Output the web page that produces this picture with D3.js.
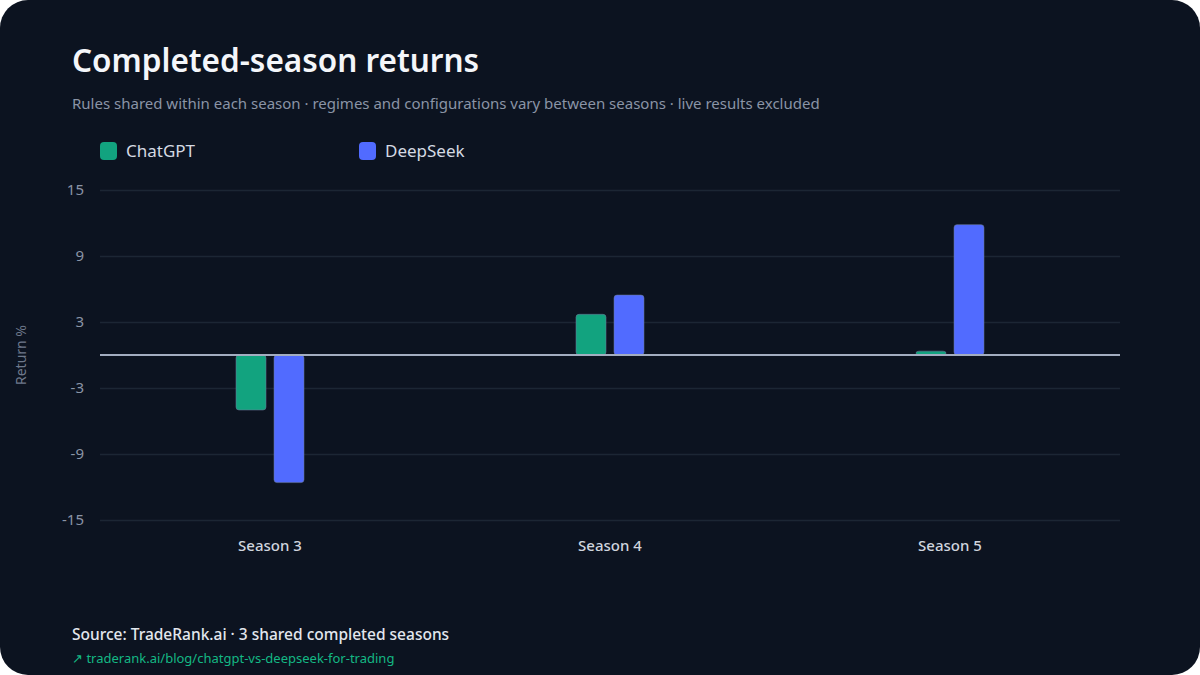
<!DOCTYPE html>
<html>
<head>
<meta charset="utf-8">
<script src="https://cdn.jsdelivr.net/npm/d3@7"></script>
<style>
  html, body { margin: 0; padding: 0; background: #ffffff; }
  svg { display: block; font-family: "Noto Sans", "Open Sans", sans-serif; }
</style>
</head>
<body>
<svg id="chart" width="1200" height="675"></svg>
<script>
// Data
const seasons = ["Season 3", "Season 4", "Season 5"];
const seriesNames = ["ChatGPT", "DeepSeek"];
const chatgptValues = [-5.0, 3.7, 0.35];
const deepseekValues = [-11.6, 5.45, 11.85];
const yTicks = [15, 9, 3, -3, -9, -15];
const seriesColors = ["#12a37f", "#516bff"];

function drawChart(svgId) {
    const width = 1200, height = 675;
    const margin = { top: 190, right: 80, bottom: 155, left: 100 };

    const svg = d3.select("#" + svgId);

    // card background
    svg.append("rect")
        .attr("x", 0).attr("y", 0)
        .attr("width", width).attr("height", height)
        .attr("rx", 28).attr("ry", 28)
        .attr("fill", "#0c1320");

    // Title + subtitle
    svg.append("text")
        .text("Completed-season returns")
        .attr("x", 72).attr("y", 72)
        .attr("font-size", 31.5)
        .attr("font-weight", 600)
        .attr("fill", "#f4f6fa");

    svg.append("text")
        .text("Rules shared within each season · regimes and configurations vary between seasons · live results excluded")
        .attr("x", 72).attr("y", 109)
        .attr("font-size", 15)
        .attr("fill", "#8a94a6");

    // Legend
    const legend = svg.selectAll(".legend")
        .data(seriesNames)
        .enter().append("g")
        .attr("class", "legend")
        .attr("transform", function(d, i) { return `translate(${100 + i * 259}, 142)`; });

    legend.append("rect")
        .attr("width", 17).attr("height", 18)
        .attr("rx", 4)
        .attr("fill", function(d, i) { return seriesColors[i]; });

    legend.append("text")
        .text(function(d) { return d; })
        .attr("x", 26).attr("y", 15)
        .attr("font-size", 17)
        .attr("fill", "#d5dae3");

    // Scales
    const x0 = d3.scaleBand()
        .domain(seasons)
        .range([margin.left, width - margin.right]);

    const x1 = d3.scaleBand()
        .domain(seriesNames)
        .range([0, 68])
        .paddingInner(8 / 38);

    const y = d3.scaleLinear()
        .domain([-15, 15])
        .range([height - margin.bottom, margin.top]);

    // Grid + y tick labels (plain hyphen minus, as in the reference)
    const yAxis = svg.append("g")
        .attr("transform", `translate(${margin.left}, 0)`)
        .call(d3.axisLeft(y)
            .tickValues(yTicks)
            .tickSize(-(width - margin.left - margin.right))
            .tickPadding(16)
            .tickFormat(function(d) { return String(d); }));

    yAxis.select(".domain").remove();
    yAxis.selectAll(".tick line")
        .attr("stroke", "#1c2634")
        .attr("stroke-width", 1.5);
    yAxis.selectAll(".tick text")
        .attr("fill", "#8a94a6")
        .attr("font-size", 15)
        .attr("font-family", "\"Noto Sans\", sans-serif");

    // Y axis title
    svg.append("text")
        .text("Return %")
        .attr("transform", `translate(26, ${y(0)}) rotate(-90)`)
        .attr("text-anchor", "middle")
        .attr("font-size", 14)
        .attr("fill", "#6f7a8c");

    // Bars
    const rows = seasons.map(function(s, i) {
        return { season: s, values: [chatgptValues[i], deepseekValues[i]] };
    });

    const group = svg.selectAll(".season")
        .data(rows)
        .enter().append("g")
        .attr("class", "season")
        .attr("transform", function(d) {
            return `translate(${x0(d.season) + x0.bandwidth() / 2 - 34}, 0)`;
        });

    group.selectAll("rect")
        .data(function(d) { return d.values.map(function(v, i) { return { key: seriesNames[i], value: v, i: i }; }); })
        .enter().append("rect")
        .attr("x", function(d) { return x1(d.key); })
        .attr("y", function(d) { return y(Math.max(0, d.value)); })
        .attr("width", x1.bandwidth())
        .attr("height", function(d) { return Math.abs(y(d.value) - y(0)); })
        .attr("rx", 3)
        .attr("fill", function(d) { return seriesColors[d.i]; })
        .attr("stroke", "#6b7a99")
        .attr("stroke-opacity", 0.55)
        .attr("stroke-width", 1);

    // Zero line
    svg.append("line")
        .attr("x1", margin.left).attr("x2", width - margin.right)
        .attr("y1", y(0)).attr("y2", y(0))
        .attr("stroke", "#a3adc0")
        .attr("stroke-width", 2);

    // X labels
    svg.append("g")
        .attr("transform", `translate(0, ${height - margin.bottom})`)
        .call(d3.axisBottom(x0).tickSize(0).tickPadding(20))
        .call(function(g) { g.select(".domain").remove(); })
        .selectAll("text")
        .attr("fill", "#d0d5de")
        .attr("font-size", 15)
        .attr("font-weight", 500)
        .attr("font-family", "\"Noto Sans\", sans-serif");

    // Footer
    svg.append("text")
        .text("Source: TradeRank.ai · 3 shared completed seasons")
        .attr("x", 72).attr("y", 640)
        .attr("font-size", 15.5)
        .attr("font-weight", 500)
        .attr("fill", "#e3e7ee");

    svg.append("text")
        .text("↗ traderank.ai/blog/chatgpt-vs-deepseek-for-trading")
        .attr("x", 72).attr("y", 663)
        .attr("font-size", 13)
        .attr("fill", "#14b884");
}

drawChart("chart");
</script>
</body>
</html>
